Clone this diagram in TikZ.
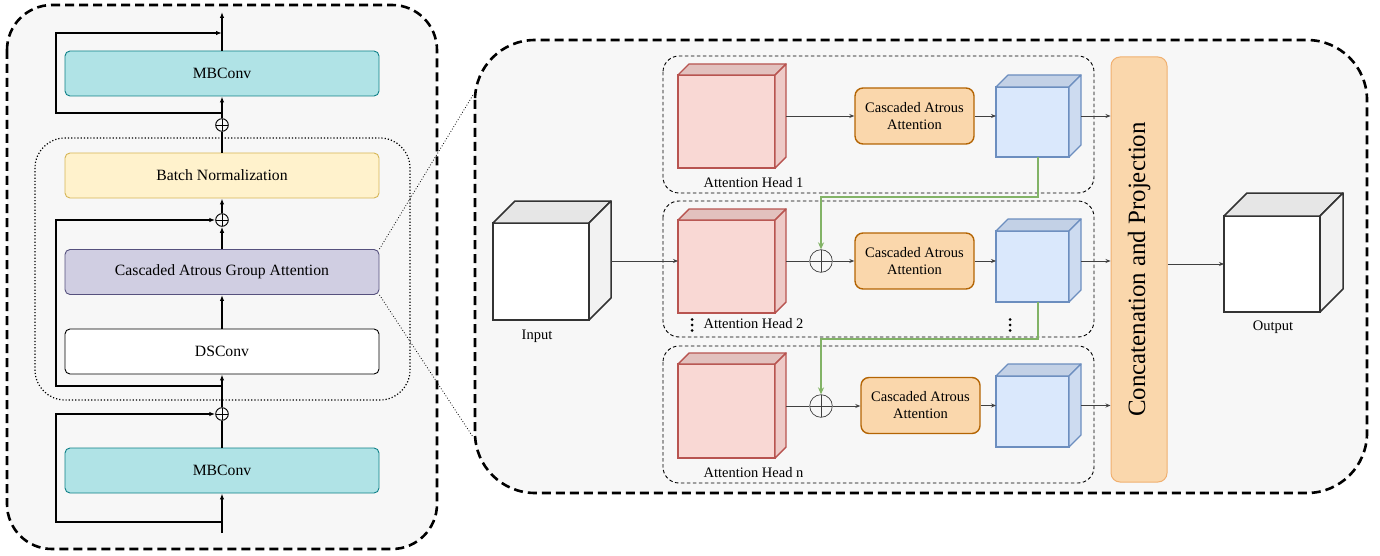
\documentclass[tikz,border=0pt]{standalone}
\usepackage{fontspec}
\setmainfont{Liberation Serif}
\usetikzlibrary{arrows.meta,calc}
\definecolor{bgf}{HTML}{F7F7F7}
\definecolor{tealf}{HTML}{B0E3E6}
\definecolor{teals}{HTML}{0E8088}
\definecolor{yelf}{HTML}{FFF2CC}
\definecolor{yels}{HTML}{D6B656}
\definecolor{purf}{HTML}{D0CEE2}
\definecolor{purs}{HTML}{56517E}
\definecolor{redfr}{HTML}{F9D8D4}
\definecolor{redtp}{HTML}{E2C1BE}
\definecolor{redsd}{HTML}{EECAC7}
\definecolor{reds}{HTML}{B85450}
\definecolor{blufr}{HTML}{DAE8FC}
\definecolor{blutp}{HTML}{C3D1E6}
\definecolor{blusd}{HTML}{CDDBF0}
\definecolor{blus}{HTML}{6C8EBF}
\definecolor{orf}{HTML}{FAD7AC}
\definecolor{ors}{HTML}{B46504}
\definecolor{ors2}{HTML}{F0B070}
\definecolor{grn}{HTML}{82B366}
\definecolor{whfr}{HTML}{FFFFFF}
\definecolor{whtp}{HTML}{E6E6E6}
\definecolor{whsd}{HTML}{F2F2F2}
\definecolor{whs}{HTML}{333333}
\definecolor{arrg}{HTML}{404040}
\tikzset{
  lbox/.style={rounded corners=5pt, minimum width=314pt, minimum height=45pt, inner sep=0pt, line width=0.9pt, font=\fontsize{15.7}{18}\selectfont},
  larr/.style={line width=1.2pt, -{Latex[length=6pt,width=4.5pt]}},
  lline/.style={line width=1.2pt},
  lplus/.style={circle, draw, line width=0.9pt, minimum size=12.6pt, inner sep=0pt,
    path picture={\draw[line width=0.9pt] (path picture bounding box.north) -- (path picture bounding box.south) (path picture bounding box.west) -- (path picture bounding box.east);}},
  rplus/.style={circle, draw=arrg, line width=0.7pt, minimum size=22.6pt, inner sep=0pt,
    path picture={\draw[arrg, line width=0.7pt] (path picture bounding box.north) -- (path picture bounding box.south) (path picture bounding box.west) -- (path picture bounding box.east);}},
  outerdash/.style={line width=2.6pt, dash pattern=on 9pt off 5pt, fill=bgf},
  headbox/.style={line width=0.9pt, dash pattern=on 3.5pt off 2.5pt, rounded corners=16pt},
  caa/.style={rounded corners=8pt, fill=orf, draw=ors, line width=1.4pt, minimum width=119pt, minimum height=56pt, inner sep=0pt, align=center, font=\fontsize{14.5}{17}\selectfont},
  rarr/.style={draw=arrg, line width=0.8pt, -{Stealth[length=5pt,width=4pt]}},
  garr/.style={draw=grn, line width=1.5pt, -{Stealth[length=7pt,width=6pt]}},
  lbl/.style={font=\fontsize{14.5}{17}\selectfont, inner sep=0pt},
  cubefront/.style={inner sep=0pt, outer sep=0pt},
  redfront/.style={fill=redfr, draw=reds, line width=1.4pt},
  redtop/.style={fill=redtp, draw=reds, line width=1.4pt, line join=round},
  redside/.style={fill=redsd, draw=reds, line width=1.4pt, line join=round},
  blufront/.style={fill=blufr, draw=blus, line width=1.2pt},
  blutop/.style={fill=blutp, draw=blus, line width=1.2pt, line join=round},
  bluside/.style={fill=blusd, draw=blus, line width=1.2pt, line join=round},
  whfront/.style={fill=whfr, draw=whs, line width=1.5pt},
  whtop/.style={fill=whtp, draw=whs, line width=1.5pt, line join=round},
  whside/.style={fill=whsd, draw=whs, line width=1.5pt, line join=round},
}
% name, center, w, h, d, style prefix
\newcommand\mkcube[6]{%
  \node[cubefront, minimum width=#3pt, minimum height=#4pt, #6front] (#1) at (#2) {};
  \filldraw[#6top] (#1.north west) -- ++(#5,-#5) -- ++(#3,0) -- (#1.north east) -- cycle;
  \filldraw[#6side] (#1.north east) -- ++(#5,-#5) -- ++(0,#4) -- (#1.south east) -- cycle;
  \coordinate (#1r) at ($(#1.east)+(#5,0)$);
}
\newcommand\mydots[1]{%
  \fill (#1) ++(0,-5.5) circle (1.5pt) (#1) circle (1.5pt) (#1) ++(0,5.5) circle (1.5pt);
}
\begin{document}
\begin{tikzpicture}[x=1pt,y=-1pt]
\useasboundingbox (0,0) rectangle (1380,556);
% ---------- left panel ----------
\draw[outerdash, rounded corners=45pt] (7,5) rectangle (437,549);
\draw[line width=1.2pt, dotted, rounded corners=30pt] (35,138) rectangle (410,400);
\node[lbox, fill=tealf, draw=teals] (mb1) at (222,73.5) {MBConv};
\node[lbox, fill=yelf, draw=yels] (bn) at (222,175.5) {Batch Normalization};
\node[lbox, fill=purf, draw=purs] (caga) at (222,272) {Cascaded Atrous Group Attention};
\node[lbox, fill=white, draw=black] (ds) at (222,351.5) {DSConv};
\node[lbox, fill=tealf, draw=teals] (mb2) at (222,470.5) {MBConv};
\node[lplus] (p1) at (222,125) {};
\node[lplus] (p2) at (222,220) {};
\node[lplus] (p3) at (222,414) {};
\coordinate (top) at (222,12);
\coordinate (bot) at (222,533);
\draw[larr] (mb1.north) -- (top);
\draw[larr] (p1.north) -- (mb1.south);
\draw[lline] (bn.north) -- (p1.south);
\draw[larr] (p2.north) -- (bn.south);
\draw[larr] (caga.north) -- (p2.south);
\draw[larr] (ds.north) -- (caga.south);
\draw[larr] (p3.north) -- (ds.south);
\draw[lline] (mb2.north) -- (p3.south);
\draw[larr] (bot) -- (mb2.south);
\coordinate (s1) at (222,113);
\coordinate (s1a) at (56,33);
\draw[larr] (s1) -| (s1a) -- (s1a -| top);
\coordinate (s2) at (222,386);
\draw[larr] (s2) -| (p2.west -| s1a) -- (p2.west);
\coordinate (s3) at (222,522);
\draw[larr] (s3) -| (p3.west -| s1a) -- (p3.west);
% ---------- right panel ----------
\draw[outerdash, rounded corners=60pt] (475,40) rectangle (1367,493);
\coordinate (zt) at (473,95);
\coordinate (zb) at (473,437);
\draw[line width=0.8pt, dotted] (caga.north east) -- (zt);
\draw[line width=0.8pt, dotted] (caga.south east) -- (zb);
\draw[headbox] (663,56) rectangle (1094,193);
\draw[headbox] (663,201) rectangle (1094,337);
\draw[headbox] (663,346) rectangle (1094,483);
\mkcube{inp}{541,271.5}{96}{97}{22}{wh}
\mkcube{outp}{1272,264}{96}{96}{23}{wh}
\mkcube{redA}{726.5,121.5}{97}{93}{11}{red}
\mkcube{redB}{726.5,266.5}{97}{93}{11}{red}
\mkcube{redC}{726.5,411}{97}{94}{11}{red}
\mkcube{bluA}{1032.5,122}{73}{70}{12}{blu}
\mkcube{bluB}{1032.5,266.5}{73}{71}{12}{blu}
\mkcube{bluC}{1032.5,411.5}{73}{71}{12}{blu}
\node[caa] (caaA) at (914.5,116) {Cascaded Atrous\\Attention};
\node[caa] (caaB) at (914.5,261) {Cascaded Atrous\\Attention};
\node[caa] (caaC) at (920.5,405.5) {Cascaded Atrous\\Attention};
\node[rplus] (pa) at (821,261) {};
\node[rplus] (pb) at (821,406) {};
\node[rounded corners=9pt, fill=orf, draw=ors2, line width=1pt, minimum width=56pt, minimum height=425pt, inner sep=0pt] (cat) at (1139,269.5) {};
\node[rotate=90, font=\fontsize{24.9}{28}\selectfont, inner sep=0pt] (catt) at (cat.center) {Concatenation and Projection};
\node[lbl] (l1) at (753.5,183) {Attention Head 1};
\node[lbl] (l2) at (753.5,324) {Attention Head 2};
\node[lbl] (l3) at (753.5,473) {Attention Head n};
\node[lbl] (lin) at (537,336) {Input};
\node[lbl] (lout) at (1273,327) {Output};
\coordinate (d1) at (692,325);
\coordinate (d2) at (1010,325);
\mydots{d1}
\mydots{d2}
% arrows
\draw[rarr] (redAr |- caaA.west) -- (caaA.west);
\draw[rarr] (caaA.east) -- (bluA.west |- caaA.east);
\draw[rarr] (bluAr |- caaA.east) -- (cat.west |- caaA.east);
\draw[rarr] (inpr |- pa) -- (redB.west |- pa);
\draw[draw=arrg, line width=0.8pt] (redBr |- pa) -- (pa.west);
\draw[rarr] (pa.east) -- (caaB.west);
\draw[rarr] (caaB.east) -- (bluB.west |- caaB.east);
\draw[rarr] (bluBr |- caaB.east) -- (cat.west |- caaB.east);
\draw[draw=arrg, line width=0.8pt] (redCr |- pb) -- (pb.west);
\draw[rarr] (pb.east) -- (caaC.west |- pb);
\draw[rarr] (caaC.east) -- (bluC.west |- caaC.east);
\draw[rarr] (bluCr |- caaC.east) -- (cat.west |- caaC.east);
\draw[rarr] (cat.east |- outp.west) -- (outp.west);
\coordinate (gA) at (1038,157);
\coordinate (gB) at (1038,302);
\draw[garr] (gA) -- ++(0,40) -| (pa.north);
\draw[garr] (gB) -- ++(0,37) -| (pb.north);
\end{tikzpicture}
\end{document}
